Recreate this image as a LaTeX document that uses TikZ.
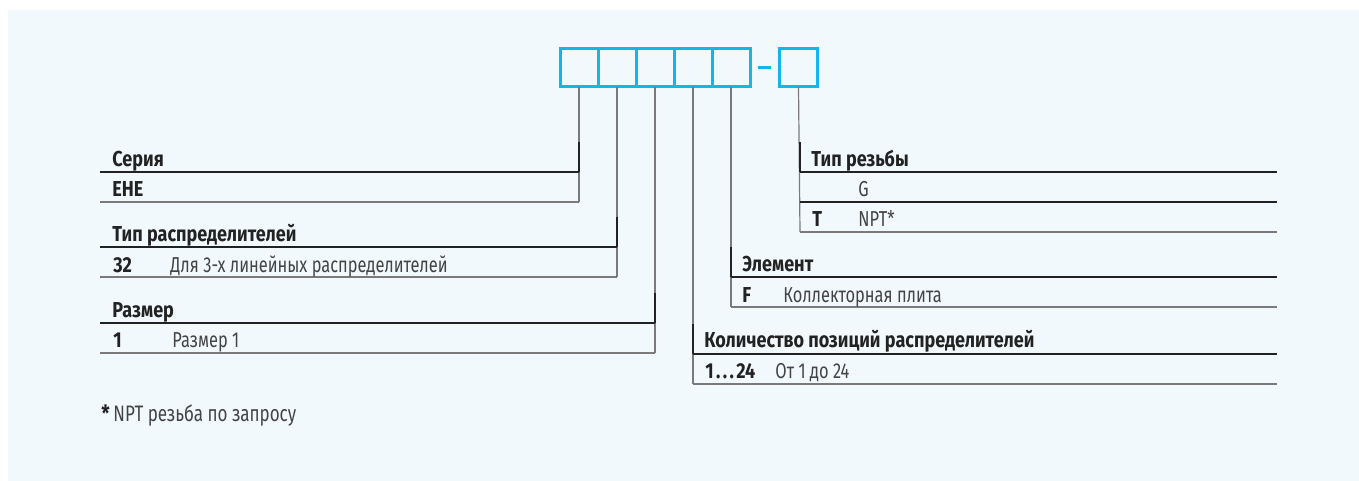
\documentclass[tikz,border=0pt]{standalone}
\usepackage{fontspec}
\setmainfont{Fira Sans}[FakeStretch=0.76,BoldFeatures={FakeStretch=0.835}]
\begin{document}
\begin{tikzpicture}[x=0.5pt,y=-0.5pt,
  codeBox/.style={draw=codeBlue,line width=1.5pt,minimum size=19pt,inner sep=0pt,outer sep=0pt},
  headText/.style={anchor=base west,inner sep=0pt,text=headDark,font=\fontsize{10.8}{12}\selectfont\bfseries},
  keyText/.style={anchor=base west,inner sep=0pt,text=headDark,font=\fontsize{10.8}{12}\selectfont\bfseries},
  valText/.style={anchor=base west,inner sep=0pt,text=valGrey,font=\fontsize{10.8}{12}\selectfont},
  headRule/.style={draw=headDark,line width=1.2pt},
  rowRule/.style={draw=ruleGrey,line width=0.6pt},
  leadLine/.style={draw=ruleGrey,line width=0.6pt}]
\definecolor{panelBg}{HTML}{F2F9FD}
\definecolor{codeBlue}{HTML}{14B4EC}
\definecolor{headDark}{HTML}{222222}
\definecolor{valGrey}{HTML}{444444}
\definecolor{ruleGrey}{HTML}{7A7A7A}
\useasboundingbox (0,0) rectangle (1359,481);
\fill[panelBg] (8,10) rectangle (1359,481);
% code boxes
\foreach \i/\x in {1/579,2/617,3/655,4/693,5/731,6/798.5}
  \node[codeBox] (b\i) at (\x,68) {};
\coordinate (dashL) at (758,67.5);
\coordinate (dashR) at (771,67.5);
\draw[codeBlue,line width=1.5pt] (dashL) -- (dashR);
% left tables
\foreach \i/\xr/\yh in {1/579/172,2/617/247,3/655/323} {
  \coordinate (hl\i) at (100,\yh);
  \coordinate (hr\i) at (\xr,\yh);
  \coordinate (bl\i) at (100,\yh+30);
  \coordinate (br\i) at (\xr,\yh+30);
  \draw[leadLine] (b\i.south) -- (br\i);
  \draw[headDark,line width=0.6pt] (\xr,\yh-30) -- (hr\i);
  \draw[headRule] (hl\i) -- (hr\i);
  \draw[rowRule] (bl\i) -- (br\i);
}
% right tables
\foreach \i/\n/\xl/\yh/\yb in {6/r1/800/172/232,5/r2/731/277/307,4/r3/693/354/384} {
  \coordinate (\n hl) at (\xl,\yh);
  \coordinate (\n hr) at (1277,\yh);
  \coordinate (\n bl) at (\xl,\yb);
  \coordinate (\n br) at (1277,\yb);
  \draw[leadLine] (b\i.south) -- (\n bl);
  \draw[headDark,line width=0.6pt] (\xl,\yh-30) -- (\n hl);
  \draw[headRule] (\n hl) -- (\n hr);
  \draw[rowRule] (\n bl) -- (\n br);
}
\coordinate (r1ml) at (800,202);
\coordinate (r1mr) at (1277,202);
\draw[headDark,line width=0.6pt] (r1ml) -- (r1mr);
% texts
\node[headText] (serT) at (112,166) {Серия};
\node[keyText] (serK) at (112,196) {EHE};
\node[headText] (typT) at (112,241) {Тип распределителей};
\node[keyText] (typK) at (113,272) {32};
\node[valText] (typV) at (170,272) {Для 3-х линейных распределителей};
\node[headText] (sizT) at (112,317) {Размер};
\node[keyText] (sizK) at (113,347) {1};
\node[valText] (sizV) at (172,347) {Размер 1};
\node[headText] (thrT) at (811,166) {Тип резьбы};
\node[valText] (thrV1) at (858,196) {G};
\node[keyText] (thrK2) at (812,226) {T};
\node[valText] (thrV2) at (858,226) {NPT*};
\node[headText] (elmT) at (742,271) {Элемент};
\node[keyText] (elmK) at (742,302) {F};
\node[valText] (elmV) at (783,302) {Коллекторная плита};
\node[headText] (qtyT) at (704,347) {Количество позиций распределителей};
\node[keyText] (qtyK) at (705,378) {1\kern1.2pt.\kern1.2pt.\kern1.2pt.\kern1.2pt24};
\node[valText] (qtyV) at (775,378) {От 1 до 24};
\node[keyText,font=\fontsize{11.2}{12}\selectfont\bfseries] (noteK) at (101,421) {*};
\node[valText,font=\fontsize{11.2}{12}\selectfont] (noteV) at (113,421) {NPT резьба по запросу};
\end{tikzpicture}
\end{document}
